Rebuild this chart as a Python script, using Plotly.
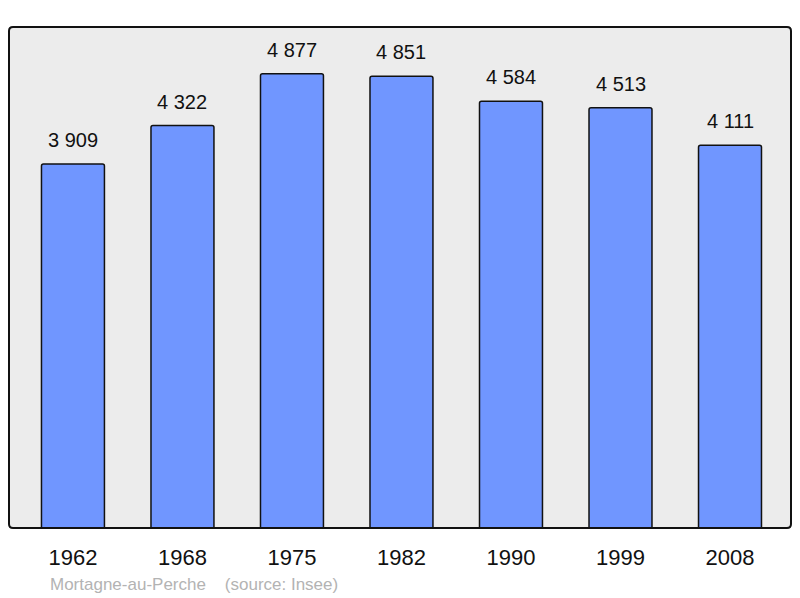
import plotly.graph_objects as go

years = ["1962", "1968", "1975", "1982", "1990", "1999", "2008"]
population = [3909, 4322, 4877, 4851, 4584, 4513, 4111]
value_labels = ["3 909", "4 322", "4 877", "4 851", "4 584", "4 513", "4 111"]

W, H = 800, 598
ml, mr, mt, mb = 9, 9, 27, 70

xs = list(range(len(years)))
FONT = "Liberation Sans, Arial, sans-serif"

fig = go.Figure()
fig.add_trace(go.Bar(
    x=xs, y=population, width=0.575,
    marker=dict(color="#7096ff", line=dict(color="#111111", width=1.5), cornerradius=2),
    hoverinfo="skip",
))

for x, y, t in zip(xs, population, value_labels):
    fig.add_annotation(x=x, y=y, text=t, showarrow=False, yanchor="bottom",
                       yshift=11, font=dict(size=20, color="#111111", family=FONT))

# rounded frame around plot area
pw, ph = W - ml - mr, H - mt - mb
rx, ry = 4 / pw, 4 / ph
path = (f"M {rx},0 L {1-rx},0 Q 1,0 1,{ry} L 1,{1-ry} Q 1,1 {1-rx},1 "
        f"L {rx},1 Q 0,1 0,{1-ry} L 0,{ry} Q 0,0 {rx},0 Z")
fig.add_shape(type="path", path=path, xref="paper", yref="paper",
              line=dict(color="#111111", width=2), layer="above")

fig.add_annotation(
    xref="paper", yref="paper", x=(48 - ml) / pw, y=-(584 - (H - mb)) / ph,
    text="Mortagne-au-Perche &nbsp;&nbsp; (source: Insee)", showarrow=False,
    xanchor="left", yanchor="middle",
    font=dict(size=17, color="#b3b3b3", family=FONT))

fig.update_layout(
    width=W, height=H,
    margin=dict(l=ml, r=mr, t=mt, b=mb),
    paper_bgcolor="white", plot_bgcolor="#ececec",
    showlegend=False,
    font=dict(family=FONT),
    xaxis=dict(range=[-0.584, 6.557], tickvals=xs, ticktext=years, showgrid=False,
               zeroline=False, showline=False, ticks="", fixedrange=True,
               ticklabelstandoff=14,
               tickfont=dict(size=22, color="#111111")),
    yaxis=dict(range=[0, 5380], showticklabels=False, showgrid=False, zeroline=False,
               showline=False, ticks="", fixedrange=True),
)

fig.write_html("out.html", config={"displayModeBar": False},
               post_script="document.body.style.margin='0';document.body.style.overflow='hidden';")
